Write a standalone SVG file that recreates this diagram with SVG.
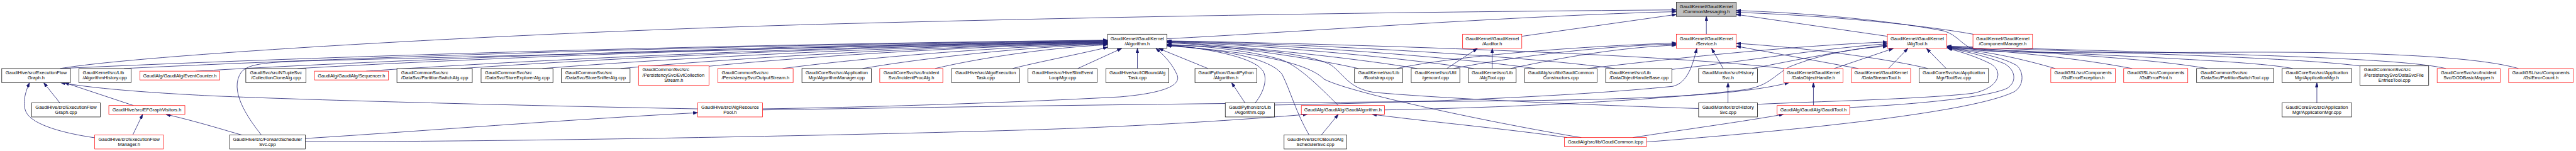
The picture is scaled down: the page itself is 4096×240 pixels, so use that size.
<svg xmlns="http://www.w3.org/2000/svg" width="4096" height="240" viewBox="0 0 4096 240">
<style>
.n rect{fill:#fff;stroke:#000;stroke-width:1.3}
.r rect{stroke:#f00}
.g rect{fill:#bfbfbf}
text{font-family:"Liberation Sans",Arial,Helvetica,sans-serif;font-size:13.33px;fill:#000}
.m{text-anchor:middle}
#edges path{fill:none;stroke:#191970;stroke-width:1.4;marker-end:url(#ah)}
</style>
<defs>
<marker id="ah" markerUnits="userSpaceOnUse" markerWidth="13" markerHeight="9" refX="13" refY="4.5" orient="auto" viewBox="0 0 13 9"><path d="M0,0 L13,4.5 L0,9 z" fill="#191970" stroke="#191970" stroke-width="1"/></marker>
</defs>
<rect width="4096" height="240" fill="#fff"/>
<g transform="scale(0.56)">
<g id="edges">
<path d="M171,194.5 C766,166.3 1955,126.1 3145,114"/>
<path d="M352,194.5 C911,166.7 2028,126.9 3145,115"/>
<path d="M556,202 C1074,171.9 2109,128.9 3145,116"/>
<path d="M742,383 C700,330 650,255 685,205 C705,180 760,176 900,172 C1800,150 2600,126 3145,117"/>
<path d="M845,194.5 C1305,167.7 2225,129.5 3145,118"/>
<path d="M1040,202 C1461,173 2303,131.5 3145,119"/>
<path d="M1309,194.5 C1676,168.4 2411,131.2 3145,120"/>
<path d="M1540,194.5 C1861,168.8 2503,132 3145,121"/>
<path d="M1762,194.5 C2039,169.1 2592,132.9 3145,122"/>
<path d="M2013,188 C2239,165.3 2692,132.8 3145,123"/>
<path d="M2222,194.5 C2407,169.8 2776,134.6 3145,124"/>
<path d="M2449,194.5 C2588,170.2 2867,135.4 3145,125"/>
<path d="M2655,194.5 C2753,170.9 2949,137.1 3145,127"/>
<path d="M2875,194.5 C2929,180 3090,148 3145,134"/>
<path d="M3060,194.5 L3185,137.5"/>
<path d="M3229.5,194.5 L3229.5,137.5"/>
<path d="M3430,194.5 L3290,137.5"/>
<path d="M2165,309 C2500,304 2900,290 3180,275 C3330,262 3352,235 3342,212 C3330,185 3310,160 3282,137.5"/>
<path d="M3564,292 C3590,260 3600,220 3585,200 C3560,165 3450,140 3313,127"/>
<path d="M3800,299.5 C3740,240 3690,190 3640,170 C3560,145 3420,130 3313,126"/>
<path d="M3717,383 C3680,320 3665,260 3640,210 C3600,160 3450,140 3313,128"/>
<path d="M3857,194.5 C3750,170 3500,130 3313,121"/>
<path d="M4024,194.5 C3850,165 3500,128 3313,120"/>
<path d="M4185,194.5 C3950,160 3550,125 3313,119"/>
<path d="M4359,194.5 C4100,158 3600,124 3313,118"/>
<path d="M4585,194.5 C4300,155 3650,122 3313,117"/>
<path d="M5065,194.5 C4700,150 3700,122 3313,116"/>
<path d="M4823,308 C4500,298 4100,280 3900,262 C3830,250 3820,215 3780,185 C3720,150 3500,130 3313,129"/>
<path d="M4490,390.5 C4300,360 3850,270 3760,225 C3720,185 3600,150 3313,130"/>
<path d="M171,194.5 C400,155 1500,90 2400,67 S4000,34 4760,28"/>
<path d="M3313,110 C3700,90 4300,45 4760,33"/>
<path d="M4321,103 L4760,41"/>
<path d="M4845,97 L4845,46.5"/>
<path d="M5359,103 L4930,41"/>
<path d="M5602,97 C5450,70 5200,45 4930,35"/>
<path d="M7151,194.5 C7050,165 6800,148 6400,148 C6000,150 5700,152 5610,142 C5570,130 5560,100 5520,88 C5350,55 5100,35 4930,30"/>
<path d="M4108,194.5 L4195,137.5"/>
<path d="M4237,194.5 L4237,137.5"/>
<path d="M3966,194.5 C4100,165 4400,135 4760,122"/>
<path d="M4127,194.5 C4300,160 4550,130 4760,125"/>
<path d="M4289,194.5 C4450,160 4600,135 4760,128"/>
<path d="M4893,194.5 L4860,137.5"/>
<path d="M3619,298 C4000,292 4450,275 4750,245 C4790,235 4805,190 4818,137.5"/>
<path d="M5277,194.5 L4930,131"/>
<path d="M5474,194.5 C5420,180 5200,140 4930,123"/>
<path d="M4507,194.5 C4800,160 5100,130 5359,119"/>
<path d="M4747,197 C4950,175 5150,140 5359,124"/>
<path d="M4975,194.5 C5100,170 5250,140 5359,128"/>
<path d="M3931,312 C4300,305 4700,285 4950,255 C5020,245 5030,220 5080,190 C5180,150 5280,135 5359,132"/>
<path d="M5208,194.5 L5376,137.5"/>
<path d="M5362,194.5 L5417,137.5"/>
<path d="M5526,194.5 L5470,137.5"/>
<path d="M5836,194.5 C5750,170 5650,145 5528,136"/>
<path d="M6054,194.5 C5900,165 5700,145 5528,135"/>
<path d="M6268,194.5 C6100,165 5800,150 5528,134"/>
<path d="M6510,194.5 C6400,172 6000,160 5528,133"/>
<path d="M6700,187 C6500,162 6000,150 5528,132"/>
<path d="M6945,194.5 C6800,160 6200,152 5528,131"/>
<path d="M4990,296 C5150,288 5450,282 5600,265 C5680,250 5690,200 5650,180 C5610,160 5570,148 5530,137"/>
<path d="M5252,305 C5450,296 5650,275 5700,250 C5730,230 5720,195 5690,180 C5640,160 5580,145 5530,136.5"/>
<path d="M4675,403 C5100,370 5600,320 5720,260 C5750,240 5745,200 5725,185 C5680,160 5600,145 5530,136"/>
<path d="M170,292 L124,234.5"/>
<path d="M379,299.5 L183,234.5"/>
<path d="M269,391 C180,378 95,355 75,320 C62,295 72,260 84,234.5"/>
<path d="M377,383 L405,324.5"/>
<path d="M686,383 C640,370 560,345 471,324.5"/>
<path d="M1981,309 C1500,300 900,285 600,272 C400,262 260,250 172,234.5"/>
<path d="M867,393 C1200,372 1600,340 1981,320"/>
<path d="M867,402 C1500,403 2600,380 3000,366 C3300,355 3550,338 3712,324.5"/>
<path d="M2165,312 C2800,302 3500,292 4200,287 C4700,283 4950,268 5080,234.5"/>
<path d="M3535,292 L3497,234.5"/>
<path d="M3752,383 L3800,324.5"/>
<path d="M4450,390.5 C4300,368 4050,345 3896,324.5"/>
<path d="M4636,390.5 C4800,365 4950,345 5064,324.5"/>
<path d="M5149,299.5 L5149,234.5"/>
<path d="M4906.5,292 L4906.5,234.5"/>
<path d="M6578.5,292 L6578.5,234.5"/>
</g>
<g id="n-cm" class="n g"><rect x="4760" y="6.5" width="170" height="40"/><text class="m" x="4845" y="23.5">GaudiKernel/GaudiKernel</text><text class="m" x="4845" y="37.5">/CommonMessaging.h</text></g>
<g id="n-alg" class="n"><rect x="3145" y="97" width="168" height="40"/><text class="m" x="3229" y="114">GaudiKernel/GaudiKernel</text><text class="m" x="3229" y="128">/Algorithm.h</text></g>
<g id="n-aud" class="n r"><rect x="4153" y="97" width="168" height="40"/><text class="m" x="4237" y="114">GaudiKernel/GaudiKernel</text><text class="m" x="4237" y="128">/Auditor.h</text></g>
<g id="n-svc" class="n r"><rect x="4760" y="97" width="170" height="40"/><text class="m" x="4845" y="114">GaudiKernel/GaudiKernel</text><text class="m" x="4845" y="128">/Service.h</text></g>
<g id="n-atl" class="n r"><rect x="5359" y="97" width="169" height="40"/><text class="m" x="5443.5" y="114">GaudiKernel/GaudiKernel</text><text class="m" x="5443.5" y="128">/AlgTool.h</text></g>
<g id="n-cmg" class="n r"><rect x="5602" y="97" width="169" height="40"/><text class="m" x="5686.5" y="114">GaudiKernel/GaudiKernel</text><text class="m" x="5686.5" y="128">/ComponentManager.h</text></g>
<g id="n-efg" class="n"><rect x="5" y="194.5" width="195" height="40"/><text class="m" x="102.5" y="211.5">GaudiHive/src/ExecutionFlow</text><text class="m" x="102.5" y="225.5">Graph.h</text></g>
<g id="n-ahc" class="n"><rect x="224" y="194.5" width="148" height="40"/><text x="235" y="211.5">GaudiKernel/src/Lib</text><text x="235" y="225.5">/AlgorithmHistory.cpp</text></g>
<g id="n-evc" class="n r"><rect x="397" y="202" width="227" height="25"/><text class="m" x="510.5" y="219">GaudiAlg/GaudiAlg/EventCounter.h</text></g>
<g id="n-cca" class="n"><rect x="698" y="194.5" width="171" height="40"/><text class="m" x="783.5" y="211.5">GaudiSvc/src/NTupleSvc</text><text class="m" x="783.5" y="225.5">/CollectionCloneAlg.cpp</text></g>
<g id="n-seq" class="n r"><rect x="893" y="202" width="210" height="25"/><text class="m" x="998" y="219">GaudiAlg/GaudiAlg/Sequencer.h</text></g>
<g id="n-psa" class="n"><rect x="1127" y="194.5" width="214" height="40"/><text x="1139" y="211.5">GaudiCommonSvc/src</text><text x="1139" y="225.5">/DataSvc/PartitionSwitchAlg.cpp</text></g>
<g id="n-sea" class="n"><rect x="1366" y="194.5" width="204" height="40"/><text x="1377" y="211.5">GaudiCommonSvc/src</text><text x="1377" y="225.5">/DataSvc/StoreExplorerAlg.cpp</text></g>
<g id="n-ssa" class="n"><rect x="1594" y="194.5" width="195" height="40"/><text x="1605" y="211.5">GaudiCommonSvc/src</text><text x="1605" y="225.5">/DataSvc/StoreSnifferAlg.cpp</text></g>
<g id="n-ecs" class="n r"><rect x="1813" y="187" width="200" height="55"/><text x="1824" y="202.5">GaudiCommonSvc/src</text><text x="1824" y="217">/PersistencySvc/EvtCollection</text><text class="m" x="1913" y="231.5">Stream.h</text></g>
<g id="n-ost" class="n r"><rect x="2038" y="194.5" width="214" height="40"/><text x="2049" y="211.5">GaudiCommonSvc/src</text><text x="2049" y="225.5">/PersistencySvc/OutputStream.h</text></g>
<g id="n-amc" class="n"><rect x="2277" y="194.5" width="197" height="40"/><text class="m" x="2375.5" y="211.5">GaudiCoreSvc/src/Application</text><text class="m" x="2375.5" y="225.5">Mgr/AlgorithmManager.cpp</text></g>
<g id="n-ipa" class="n r"><rect x="2498" y="194.5" width="179" height="40"/><text class="m" x="2587.5" y="211.5">GaudiCoreSvc/src/Incident</text><text class="m" x="2587.5" y="225.5">Svc/IncidentProcAlg.h</text></g>
<g id="n-aet" class="n"><rect x="2702" y="194.5" width="193" height="40"/><text class="m" x="2798.5" y="211.5">GaudiHive/src/AlgoExecution</text><text class="m" x="2798.5" y="225.5">Task.cpp</text></g>
<g id="n-hsl" class="n"><rect x="2919" y="194.5" width="196" height="40"/><text class="m" x="3017" y="211.5">GaudiHive/src/HiveSlimEvent</text><text class="m" x="3017" y="225.5">LoopMgr.cpp</text></g>
<g id="n-iot" class="n"><rect x="3140" y="194.5" width="179" height="40"/><text class="m" x="3229.5" y="211.5">GaudiHive/src/IOBoundAlg</text><text class="m" x="3229.5" y="225.5">Task.cpp</text></g>
<g id="n-gpa" class="n"><rect x="3393" y="194.5" width="176" height="40"/><text class="m" x="3481" y="211.5">GaudiPython/GaudiPython</text><text class="m" x="3481" y="225.5">/Algorithm.h</text></g>
<g id="n-bst" class="n"><rect x="3846" y="194.5" width="137" height="40"/><text class="m" x="3914.5" y="211.5">GaudiKernel/src/Lib</text><text class="m" x="3914.5" y="225.5">/Bootstrap.cpp</text></g>
<g id="n-gen" class="n"><rect x="4007" y="194.5" width="138" height="40"/><text class="m" x="4076" y="211.5">GaudiKernel/src/Util</text><text class="m" x="4076" y="225.5">/genconf.cpp</text></g>
<g id="n-atc" class="n"><rect x="4169" y="194.5" width="136" height="40"/><text class="m" x="4237" y="211.5">GaudiKernel/src/Lib</text><text class="m" x="4237" y="225.5">/AlgTool.cpp</text></g>
<g id="n-gcc" class="n"><rect x="4329" y="194.5" width="206" height="40"/><text class="m" x="4432" y="211.5">GaudiAlg/src/lib/GaudiCommon</text><text class="m" x="4432" y="225.5">Constructors.cpp</text></g>
<g id="n-dhb" class="n"><rect x="4559" y="194.5" width="188" height="40"/><text x="4570" y="211.5">GaudiKernel/src/Lib</text><text x="4570" y="225.5">/DataObjectHandleBase.cpp</text></g>
<g id="n-hsh" class="n"><rect x="4823" y="194.5" width="167" height="40"/><text class="m" x="4906.5" y="211.5">GaudiMonitor/src/History</text><text class="m" x="4906.5" y="225.5">Svc.h</text></g>
<g id="n-doh" class="n r"><rect x="5065" y="194.5" width="168" height="40"/><text class="m" x="5149" y="211.5">GaudiKernel/GaudiKernel</text><text class="m" x="5149" y="225.5">/DataObjectHandle.h</text></g>
<g id="n-dst" class="n r"><rect x="5257" y="194.5" width="168" height="40"/><text class="m" x="5341" y="211.5">GaudiKernel/GaudiKernel</text><text class="m" x="5341" y="225.5">/DataStreamTool.h</text></g>
<g id="n-tsc" class="n"><rect x="5449" y="194.5" width="197" height="40"/><text class="m" x="5547.5" y="211.5">GaudiCoreSvc/src/Application</text><text class="m" x="5547.5" y="225.5">Mgr/ToolSvc.cpp</text></g>
<g id="n-gee" class="n r"><rect x="5823" y="194.5" width="183" height="40"/><text class="m" x="5914.5" y="211.5">GaudiGSL/src/Components</text><text class="m" x="5914.5" y="225.5">/GslErrorException.h</text></g>
<g id="n-gep" class="n r"><rect x="6030" y="194.5" width="182" height="40"/><text class="m" x="6121" y="211.5">GaudiGSL/src/Components</text><text class="m" x="6121" y="225.5">/GslErrorPrint.h</text></g>
<g id="n-pst" class="n"><rect x="6237" y="194.5" width="219" height="40"/><text x="6248" y="211.5">GaudiCommonSvc/src</text><text x="6248" y="225.5">/DataSvc/PartitionSwitchTool.cpp</text></g>
<g id="n-amh" class="n"><rect x="6480" y="194.5" width="197" height="40"/><text class="m" x="6578.5" y="211.5">GaudiCoreSvc/src/Application</text><text class="m" x="6578.5" y="225.5">Mgr/ApplicationMgr.h</text></g>
<g id="n-dfe" class="n"><rect x="6701" y="187" width="195" height="55"/><text x="6712" y="202.5">GaudiCommonSvc/src</text><text x="6712" y="217">/PersistencySvc/DataSvcFile</text><text class="m" x="6798.5" y="231.5">EntriesTool.cpp</text></g>
<g id="n-dod" class="n r"><rect x="6920" y="194.5" width="179" height="40"/><text class="m" x="7009.5" y="211.5">GaudiCoreSvc/src/Incident</text><text class="m" x="7009.5" y="225.5">Svc/DODBasicMapper.h</text></g>
<g id="n-gec" class="n r"><rect x="7123" y="194.5" width="183" height="40"/><text class="m" x="7214.5" y="211.5">GaudiGSL/src/Components</text><text class="m" x="7214.5" y="225.5">/GslErrorCount.h</text></g>
<g id="n-efc" class="n"><rect x="90" y="292" width="195" height="40"/><text class="m" x="187.5" y="309">GaudiHive/src/ExecutionFlow</text><text class="m" x="187.5" y="323">Graph.cpp</text></g>
<g id="n-efv" class="n r"><rect x="309" y="299.5" width="216" height="25"/><text class="m" x="417" y="316.5">GaudiHive/src/EFGraphVisitors.h</text></g>
<g id="n-arp" class="n r"><rect x="1981" y="292" width="184" height="40"/><text class="m" x="2073" y="309">GaudiHive/src/AlgResource</text><text class="m" x="2073" y="323">Pool.h</text></g>
<g id="n-gpc" class="n"><rect x="3479" y="292" width="140" height="40"/><text class="m" x="3549" y="309">GaudiPython/src/Lib</text><text class="m" x="3549" y="323">/Algorithm.cpp</text></g>
<g id="n-gah" class="n r"><rect x="3695" y="299.5" width="236" height="25"/><text class="m" x="3813" y="316.5">GaudiAlg/GaudiAlg/GaudiAlgorithm.h</text></g>
<g id="n-hsc" class="n"><rect x="4823" y="292" width="167" height="40"/><text class="m" x="4906.5" y="309">GaudiMonitor/src/History</text><text class="m" x="4906.5" y="323">Svc.cpp</text></g>
<g id="n-gth" class="n r"><rect x="5046" y="299.5" width="206" height="25"/><text class="m" x="5149" y="316.5">GaudiAlg/GaudiAlg/GaudiTool.h</text></g>
<g id="n-amp" class="n"><rect x="6480" y="292" width="197" height="40"/><text class="m" x="6578.5" y="309">GaudiCoreSvc/src/Application</text><text class="m" x="6578.5" y="323">Mgr/ApplicationMgr.cpp</text></g>
<g id="n-efm" class="n r"><rect x="269" y="383" width="195" height="40"/><text class="m" x="366.5" y="400">GaudiHive/src/ExecutionFlow</text><text class="m" x="366.5" y="414">Manager.h</text></g>
<g id="n-fss" class="n"><rect x="652" y="383" width="215" height="40"/><text class="m" x="759.5" y="400">GaudiHive/src/ForwardScheduler</text><text class="m" x="759.5" y="414">Svc.cpp</text></g>
<g id="n-ios" class="n"><rect x="3646" y="383" width="178" height="40"/><text class="m" x="3735" y="400">GaudiHive/src/IOBoundAlg</text><text class="m" x="3735" y="414">SchedulerSvc.cpp</text></g>
<g id="n-gci" class="n r"><rect x="4442" y="390.5" width="233" height="25"/><text class="m" x="4558.5" y="407.5">GaudiAlg/src/lib/GaudiCommon.icpp</text></g>
</g>
</svg>
